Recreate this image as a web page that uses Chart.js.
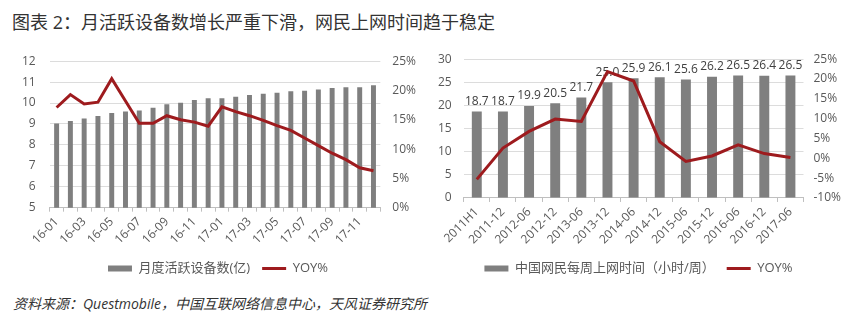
<!DOCTYPE html>
<html>
<head>
<meta charset="utf-8">
<script src="https://cdn.jsdelivr.net/npm/chart.js@4"></script>
<style>
  body { margin: 0; background: #fff; width: 850px; height: 324px; position: relative; overflow: hidden;
         font-family: "Open Sans", "Noto Sans CJK SC", sans-serif; }
  #title { position: absolute; left: 12px; top: 8px; font-size: 18px; color: #333; white-space: nowrap; }
  #source { position: absolute; left: 13px; top: 293px; font-size: 14px; font-style: italic; color: #333; white-space: nowrap; }
  #box1 { position: absolute; left: 0; top: 40px; width: 428px; height: 245px; }
  #box2 { position: absolute; left: 420px; top: 40px; width: 434px; height: 245px; }
</style>
</head>
<body>
<div id="title">图表 2：月活跃设备数增长严重下滑，网民上网时间趋于稳定</div>
<div id="box1"><canvas id="chart1"></canvas></div>
<div id="box2"><canvas id="chart2"></canvas></div>
<div id="source">资料来源：Questmobile，中国互联网络信息中心，天风证券研究所</div>
<script>
// left chart: monthly active devices
const months = ["16-01","16-02","16-03","16-04","16-05","16-06","16-07","16-08","16-09","16-10","16-11","16-12",
                "17-01","17-02","17-03","17-04","17-05","17-06","17-07","17-08","17-09","17-10","17-11","17-12"];
const devices = [9.02,9.14,9.26,9.38,9.52,9.60,9.65,9.77,9.94,10.01,10.15,10.23,
                 10.23,10.30,10.39,10.44,10.49,10.56,10.59,10.65,10.72,10.76,10.76,10.85];
const devicesYoy = [17.1,19.3,17.7,18.0,22.0,18.2,14.4,14.4,15.7,15.0,14.6,13.9,
                    17.2,16.4,15.7,14.9,14.0,13.2,11.9,10.6,9.3,8.2,6.8,6.3];

// right chart: weekly online hours
const periods = ["2011H1","2011-12","2012-06","2012-12","2013-06","2013-12","2014-06",
                 "2014-12","2015-06","2015-12","2016-06","2016-12","2017-06"];
const hours = [18.7,18.7,19.9,20.5,21.7,25.0,25.9,26.1,25.6,26.2,26.5,26.4,26.5];
const hoursYoy = [-5.3,2.6,6.8,9.9,9.3,21.9,19.5,4.2,-0.8,0.6,3.4,1.2,0.2];

const barColor = "#7f7f7f";
const lineColor = "#9e1b1e";
const tickColor = "#595959";
const gridColor = "#dcdcdc";
const fontFamily = "'Open Sans', 'Noto Sans CJK SC', sans-serif";

Chart.defaults.font.family = fontFamily;
Chart.defaults.color = tickColor;

const valueLabels = {
  id: "valueLabels",
  afterDatasetDraw(chart, args) {
    if (args.index !== 0) return;
    const ctx = chart.ctx;
    ctx.save();
    ctx.font = "12px " + fontFamily;
    ctx.fillStyle = "#404040";
    ctx.textAlign = "center";
    ctx.textBaseline = "bottom";
    args.meta.data.forEach((bar, i) => {
      ctx.fillText(hours[i].toFixed(1), bar.x, bar.y - 4);
    });
    ctx.restore();
  }
};

function legendOpts() {
  return {
    position: "bottom",
    labels: {
      usePointStyle: true, pointStyleWidth: 24, boxHeight: 6, font: { size: 13 }, color: tickColor, padding: 12,
      sort: (a, b) => a.datasetIndex - b.datasetIndex,
      generateLabels(chart) {
        const items = Chart.defaults.plugins.legend.labels.generateLabels(chart);
        items.forEach((it) => {
          it.pointStyle = it.datasetIndex === 0 ? "rect" : "line";
          it.lineWidth = it.datasetIndex === 0 ? 0 : 3;
        });
        return items;
      }
    }
  };
}

new Chart("chart1", {
  data: {
    labels: months,
    datasets: [
      { type: "bar", label: "月度活跃设备数(亿)", data: devices, backgroundColor: barColor,
        barPercentage: 0.36, categoryPercentage: 1, yAxisID: "y", order: 2 },
      { type: "line", label: "YOY%", data: devicesYoy, borderColor: lineColor, backgroundColor: lineColor,
        borderWidth: 3, pointRadius: 0, tension: 0, yAxisID: "y1", order: 1 }
    ]
  },
  options: {
    responsive: true,
    maintainAspectRatio: false,
    animation: false,
    layout: { padding: { left: 8, right: 0, top: 0, bottom: 0 } },
    plugins: { legend: legendOpts(), tooltip: { enabled: false } },
    scales: {
      x: {
        grid: { drawOnChartArea: false, tickLength: 4, color: "#bfbfbf" },
        border: { color: "#bfbfbf" },
        ticks: { autoSkip: false, maxRotation: 45, minRotation: 45, font: { size: 12 },
                 callback: (v, i) => (i % 2 === 0 ? months[i] : "") }
      },
      y: {
        min: 5, max: 12,
        ticks: { stepSize: 1, font: { size: 12 }, padding: 14 },
        grid: { color: gridColor, drawTicks: false },
        border: { display: false }
      },
      y1: {
        position: "right", min: 0, max: 25,
        ticks: { stepSize: 5, font: { size: 12 }, padding: 12, callback: (v) => v + "%" },
        grid: { drawOnChartArea: false, drawTicks: false },
        border: { display: false }
      }
    }
  }
});

new Chart("chart2", {
  data: {
    labels: periods,
    datasets: [
      { type: "bar", label: "中国网民每周上网时间（小时/周）", data: hours, backgroundColor: barColor,
        barPercentage: 0.38, categoryPercentage: 1, yAxisID: "y", order: 2 },
      { type: "line", label: "YOY%", data: hoursYoy, borderColor: lineColor, backgroundColor: lineColor,
        borderWidth: 3, pointRadius: 0, tension: 0, yAxisID: "y1", order: 1 }
    ]
  },
  plugins: [valueLabels],
  options: {
    responsive: true,
    maintainAspectRatio: false,
    animation: false,
    layout: { padding: { left: 6, right: 3, top: 6, bottom: 0 } },
    plugins: { legend: legendOpts(), tooltip: { enabled: false } },
    scales: {
      x: {
        grid: { drawOnChartArea: false, tickLength: 4, color: "#bfbfbf" },
        border: { color: "#bfbfbf" },
        ticks: { autoSkip: false, maxRotation: 45, minRotation: 45, font: { size: 12 } }
      },
      y: {
        min: 0, max: 30,
        ticks: { stepSize: 5, font: { size: 12 }, padding: 12 },
        grid: { color: gridColor, drawTicks: false },
        border: { display: false }
      },
      y1: {
        position: "right", min: -10, max: 25,
        ticks: { stepSize: 5, font: { size: 12 }, padding: 10, callback: (v) => v + "%" },
        grid: { drawOnChartArea: false, drawTicks: false },
        border: { display: false }
      }
    }
  }
});
</script>
</body>
</html>
